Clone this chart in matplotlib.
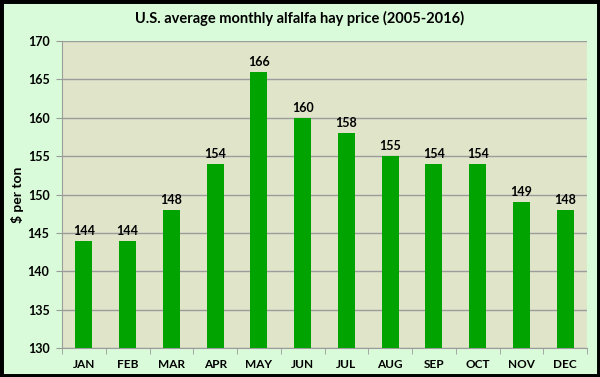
import numpy as np
import matplotlib.pyplot as plt
from matplotlib.patches import Rectangle

months = ['JAN', 'FEB', 'MAR', 'APR', 'MAY', 'JUN', 'JUL', 'AUG', 'SEP', 'OCT', 'NOV', 'DEC']
price = [144, 144, 148, 154, 166, 160, 158, 155, 154, 154, 149, 148]
yticks = [130, 135, 140, 145, 150, 155, 160, 165, 170]

plt.rcParams['font.family'] = ['Lato', 'DejaVu Sans']

fig = plt.figure(figsize=(6, 3.77), dpi=100, facecolor='#d9fbd9')
ax = fig.add_axes([62/600, 1-348/377, (587-62)/600, (348-41)/377])
ax.set_facecolor('#e0e5c9')

x = np.arange(len(months))
ax.bar(x, price, width=0.39, color='#00a300', zorder=3)
for xi, v in zip(x, price):
    ax.text(xi, v + 0.5, str(v), ha='center', va='bottom', fontsize=9, fontweight='bold', zorder=4)

ax.set_xlim(-0.5, 11.5)
ax.set_ylim(130, 170)
ax.set_yticks(yticks)
ax.set_yticklabels([str(t) for t in yticks], fontsize=9, fontweight='bold')
ax.set_xticks(x)
ax.set_xticklabels(months, fontsize=8.5, fontweight='bold')
ax.tick_params(axis='x', length=0, pad=8)
ax.set_xticks(np.arange(-0.5, 12, 1), minor=True)
ax.tick_params(axis='x', which='minor', length=4, color='#999999')
ax.tick_params(axis='y', length=4, color='#999999', pad=5)
ax.grid(axis='y', color='#9c9c9c', linewidth=1, zorder=0)
for s in ['top', 'right']:
    ax.spines[s].set_visible(False)
for s in ['left', 'bottom']:
    ax.spines[s].set_color('#9c9c9c')

ax.set_ylabel('$ per ton', fontsize=10, fontweight='bold')
ax.yaxis.set_label_coords(-0.072, 0.5)
fig.text(0.5, 1-18/377, 'U.S. average monthly alfalfa hay price (2005-2016)',
         ha='center', va='center', fontsize=10.5, fontweight='bold')

fig.patches.append(Rectangle((0, 0), 1, 1, transform=fig.transFigure,
                             fill=False, edgecolor='black', linewidth=5))

fig.savefig('out.png', dpi=100, facecolor=fig.get_facecolor())
